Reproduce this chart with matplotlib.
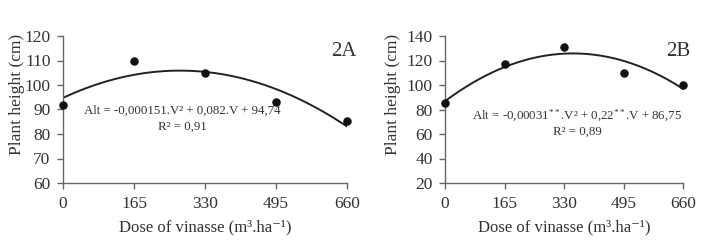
import numpy as np
import matplotlib
matplotlib.use("Agg")
import matplotlib.pyplot as plt

plt.rcParams['font.family'] = ['Liberation Serif', 'DejaVu Serif']
plt.rcParams['mathtext.fontset'] = 'custom'
plt.rcParams['mathtext.rm'] = 'Liberation Serif'
plt.rcParams['mathtext.it'] = 'Liberation Serif'

doses = [0, 165, 330, 495, 660]
height_a = [92, 110, 105, 93, 85.5]
height_b = [85, 117, 131, 110, 100]
coef_a = [-0.000151, 0.082, 94.74]
coef_b = [-0.00031, 0.22, 86.75]
xticks = [0, 165, 330, 495, 660]
yticks_a = [60, 70, 80, 90, 100, 110, 120]
yticks_b = [20, 40, 60, 80, 100, 120, 140]
eq_a = "Alt = -0,000151.V² + 0,082.V + 94,74"
r2_a = "R² = 0,91"
eq_b = "Alt = -0,00031$^{**}$.V² + 0,22$^{**}$.V + 86,75"
r2_b = "R² = 0,89"

W, H = 711, 248
fig = plt.figure(figsize=(W/100, H/100), dpi=100)
col = '#333333'

def make(ax_px, y, coef, yticks, label, eq, r2, eqpos, lblpos, ylab_x):
    x0, x1, ytop, ybot = ax_px
    ax = fig.add_axes([x0/W, 1-ybot/H, (x1-x0)/W, (ybot-ytop)/H])
    vv = np.linspace(0, 660, 200)
    ax.plot(vv, np.polyval(coef, vv), color='#222222', lw=1.4)
    ax.scatter(doses, y, s=26, color='#111111', zorder=3, clip_on=False)
    ax.set_xlim(0, 660)
    ax.set_ylim(yticks[0], yticks[-1])
    ax.set_xticks(xticks)
    ax.set_yticks(yticks)
    for s in ['top', 'right']:
        ax.spines[s].set_visible(False)
    for s in ['left', 'bottom']:
        ax.spines[s].set_color('#666666')
        ax.spines[s].set_linewidth(1.0)
    ax.tick_params(colors='#666666', labelcolor=col, labelsize=12.5, length=4, width=1)
    ax.tick_params(axis='x', pad=5)
    ax.tick_params(axis='y', pad=5)
    ax.set_xlabel("Dose of vinasse (m³.ha⁻¹)", fontsize=12, color=col, labelpad=6)
    ax.set_ylabel("Plant height (cm)", fontsize=12.5, color=col)
    ax.yaxis.set_label_coords((ylab_x - x0) / (x1 - x0), (ybot - 94) / (ybot - ytop))
    ax.yaxis.label.set_verticalalignment('center')
    fig.text(lblpos[0]/W, 1-lblpos[1]/H, label, ha='right', va='center', fontsize=15, color=col)
    fig.text(eqpos[0]/W, 1-eqpos[1]/H, eq, ha='center', va='center', fontsize=9.3, color=col)
    fig.text(eqpos[0]/W, 1-(eqpos[1]+16)/H, r2, ha='center', va='center', fontsize=9.3, color=col)
    return ax

make((63, 347, 36, 183), height_a, coef_a, yticks_a, "2A", eq_a, r2_a, (182, 111), (357, 52), 17)
make((445, 683, 36, 183), height_b, coef_b, yticks_b, "2B", eq_b, r2_b, (577, 116), (690, 52), 393)

fig.savefig("out.png", dpi=100, facecolor='white')
